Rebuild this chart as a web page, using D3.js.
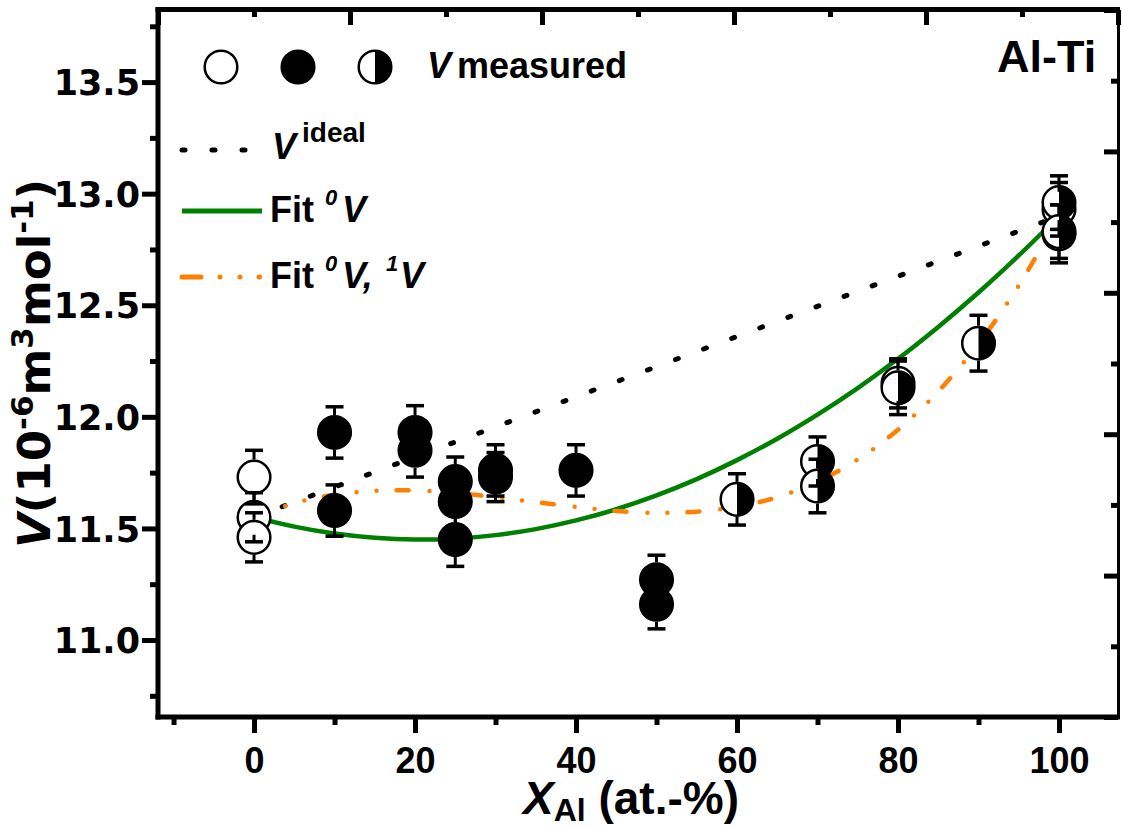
<!DOCTYPE html>
<html>
<head>
<meta charset="utf-8">
<script src="https://cdn.jsdelivr.net/npm/d3@7"></script>
<style>
  html, body { margin: 0; padding: 0; background: #fff; }
  svg { display: block; }
  text { font-family: "Liberation Sans", Arial, sans-serif; font-weight: bold; fill: #000; }
  .wide { font-family: "DejaVu Sans", Verdana, sans-serif; }
</style>
</head>
<body>
<svg id="chart" width="1122" height="828"></svg>
<script>
// ---- data -------------------------------------------------------------
// measured molar volumes (10^-6 m^3/mol) with their uncertainties
const xOpen   = [0, 0, 0, 80, 100, 100];
const vOpen   = [11.73, 11.55, 11.46, 12.15, 12.93, 12.82];
const eOpen   = [0.12, 0.11, 0.11, 0.11, 0.12, 0.13];

const xFilled = [10, 10, 20, 20, 25, 25, 25, 30, 30, 40, 50, 50];
const vFilled = [11.93, 11.58, 11.93, 11.85, 11.71, 11.62, 11.45, 11.76, 11.73, 11.76, 11.27, 11.16];
const eFilled = [0.115, 0.115, 0.12, 0.12, 0.11, 0.11, 0.12, 0.115, 0.11, 0.115, 0.11, 0.11];

const xHalf   = [60, 70, 70, 80, 90, 100, 100];
const vHalf   = [11.63, 11.80, 11.69, 12.13, 12.33, 12.96, 12.83];
const eHalf   = [0.115, 0.11, 0.12, 0.12, 0.125, 0.12, 0.12];

// ideal mixing line (end members)
const xIdeal  = [0, 100];
const vIdeal  = [11.55, 12.90];

// fitted curves
const xFit    = [0, 5, 10, 15, 20, 25, 30, 35, 40, 45, 50, 55, 60, 65, 70, 75, 80, 85, 90, 95, 100];
const vFit0   = [11.550, 11.508, 11.477, 11.458, 11.450, 11.454, 11.470, 11.497, 11.536, 11.586, 11.648,
                 11.721, 11.806, 11.902, 12.010, 12.129, 12.260, 12.403, 12.557, 12.723, 12.900];
const vFit01  = [11.550, 11.613, 11.651, 11.668, 11.670, 11.659, 11.640, 11.618, 11.596, 11.578, 11.570,
                 11.575, 11.597, 11.640, 11.710, 11.809, 11.942, 12.114, 12.328, 12.588, 12.900];

// axis ticks
const xMajor = [0, 20, 40, 60, 80, 100];
const xMinor = [-10, 10, 30, 50, 70, 90];
const yMajor = [11.0, 11.5, 12.0, 12.5, 13.0, 13.5];
const yMinor = [10.75, 11.25, 11.75, 12.25, 12.75, 13.25, 13.75];

// ---- layout -----------------------------------------------------------
const L = 158, R = 1118, T = 10, B = 717;
const svg = d3.select("#chart");

const x = d3.scaleLinear().domain([-11.93, 107.33]).range([L, R]);
const y = d3.scaleLinear().domain([10.655, 13.823]).range([B, T]);
// secondary (unlabelled) top / right axes
const xTop = d3.scaleLinear().domain([0, 5]).range([L, R]);
const yRight = d3.scaleLinear().domain([0, 5]).range([B, T]);

const GREEN = "#008000", ORANGE = "#ff8000";
const R_MK = 16.3;

svg.append("defs").append("clipPath").attr("id", "plotClip")
  .append("rect").attr("x", L).attr("y", T).attr("width", R - L).attr("height", B - T);

// ---- axes -------------------------------------------------------------
function styleTicks(g, w) {
  g.select(".domain").remove();
  g.selectAll("line").attr("stroke", "#000").attr("stroke-width", w);
}

const gxMaj = svg.append("g").attr("transform", `translate(0,${B})`)
  .call(d3.axisBottom(x).tickValues(xMajor).tickSize(16).tickSizeOuter(0).tickFormat(d3.format("d")));
styleTicks(gxMaj, 5);
gxMaj.selectAll("text").attr("y", 56).attr("dy", 0).style("font-size", "36px");

const gxMin = svg.append("g").attr("transform", `translate(0,${B})`)
  .call(d3.axisBottom(x).tickValues(xMinor).tickSize(8).tickSizeOuter(0).tickFormat(""));
styleTicks(gxMin, 5);

const gyMaj = svg.append("g").attr("transform", `translate(${L},0)`)
  .call(d3.axisLeft(y).tickValues(yMajor).tickSize(16).tickSizeOuter(0).tickFormat(d3.format(".1f")));
styleTicks(gyMaj, 5);
gyMaj.selectAll("text").attr("class", "wide").attr("x", -18).attr("dy", "0.36em").style("font-size", "35px");

const gyMin = svg.append("g").attr("transform", `translate(${L},0)`)
  .call(d3.axisLeft(y).tickValues(yMinor).tickSize(8).tickSizeOuter(0).tickFormat(""));
styleTicks(gyMin, 5);

const gtMaj = svg.append("g").attr("transform", `translate(0,${T})`)
  .call(d3.axisBottom(xTop).tickValues([0, 1, 2, 3, 4, 5]).tickSize(15).tickSizeOuter(0).tickFormat(""));
styleTicks(gtMaj, 5);
const gtMin = svg.append("g").attr("transform", `translate(0,${T})`)
  .call(d3.axisBottom(xTop).tickValues([0.5, 1.5, 2.5, 3.5, 4.5]).tickSize(7).tickSizeOuter(0).tickFormat(""));
styleTicks(gtMin, 5);

const grMaj = svg.append("g").attr("transform", `translate(${R},0)`)
  .call(d3.axisLeft(yRight).tickValues([0, 1, 2, 3, 4, 5]).tickSize(14).tickSizeOuter(0).tickFormat(""));
styleTicks(grMaj, 5);
const grMin = svg.append("g").attr("transform", `translate(${R},0)`)
  .call(d3.axisLeft(yRight).tickValues([0.5, 1.5, 2.5, 3.5, 4.5]).tickSize(7).tickSizeOuter(0).tickFormat(""));
styleTicks(grMin, 5);

// frame
const frame = svg.append("g").attr("stroke", "#000");
frame.append("line").attr("x1", L).attr("x2", L).attr("y1", T - 2.5).attr("y2", B + 2.5).attr("stroke-width", 5);
frame.append("line").attr("x1", L - 2.5).attr("x2", R).attr("y1", B).attr("y2", B).attr("stroke-width", 5);
frame.append("line").attr("x1", L - 2.5).attr("x2", R).attr("y1", T - 0.5).attr("y2", T - 0.5).attr("stroke-width", 5);
frame.append("line").attr("x1", R + 0.5).attr("x2", R + 0.5).attr("y1", T - 3).attr("y2", B + 2.5).attr("stroke-width", 3);

// ---- curves -----------------------------------------------------------
const curves = svg.append("g").attr("clip-path", "url(#plotClip)").attr("fill", "none");
const line = d3.line().x(d => x(d[0])).y(d => y(d[1])).curve(d3.curveCatmullRom);

curves.append("path")
  .datum(xIdeal.map((d, i) => [d, vIdeal[i]]))
  .attr("d", d3.line().x(d => x(d[0])).y(d => y(d[1])))
  .attr("stroke", "#000").attr("stroke-width", 5)
  .attr("stroke-linecap", "round").attr("stroke-dasharray", "3 27");

curves.append("path")
  .datum(xFit.map((d, i) => [d, vFit0[i]]))
  .attr("d", line)
  .attr("stroke", GREEN).attr("stroke-width", 4.5);

curves.append("path")
  .datum(xFit.map((d, i) => [d, vFit01[i]]))
  .attr("d", line)
  .attr("stroke", ORANGE).attr("stroke-width", 4.5)
  .attr("stroke-linecap", "round").attr("stroke-dasharray", "12 21 0 20 0 20");

// ---- markers ----------------------------------------------------------
function openMarker(g, cx, cy) {
  g.append("circle").attr("cx", cx).attr("cy", cy).attr("r", R_MK)
    .attr("fill", "#fff").attr("stroke", "#000").attr("stroke-width", 2.5);
}
function filledMarker(g, cx, cy) {
  g.append("circle").attr("cx", cx).attr("cy", cy).attr("r", R_MK)
    .attr("fill", "#000").attr("stroke", "#000").attr("stroke-width", 2.5);
}
function halfMarker(g, cx, cy) {
  g.append("circle").attr("cx", cx).attr("cy", cy).attr("r", R_MK).attr("fill", "#fff");
  g.append("path")
    .attr("d", `M${cx},${cy - R_MK} A${R_MK},${R_MK} 0 0 1 ${cx},${cy + R_MK} Z`)
    .attr("fill", "#000");
  g.append("circle").attr("cx", cx).attr("cy", cy).attr("r", R_MK)
    .attr("fill", "none").attr("stroke", "#000").attr("stroke-width", 2.5);
}

const marks = svg.append("g");
xOpen.forEach((d, i) => openMarker(marks, x(d), y(vOpen[i])));
xFilled.forEach((d, i) => filledMarker(marks, x(d), y(vFilled[i])));
xHalf.forEach((d, i) => halfMarker(marks, x(d), y(vHalf[i])));

// ---- error bars (drawn outside each marker) ---------------------------
const errs = svg.append("g").attr("stroke", "#000");
function errorBar(xv, v, e) {
  const cx = x(xv), cy = y(v), yt = y(v + e), yb = y(v - e);
  const edge = R_MK + 1.2;
  if (cy - yt > edge) errs.append("line").attr("x1", cx).attr("x2", cx).attr("y1", yt).attr("y2", cy - edge).attr("stroke-width", 3);
  if (yb - cy > edge) errs.append("line").attr("x1", cx).attr("x2", cx).attr("y1", cy + edge).attr("y2", yb).attr("stroke-width", 3);
  errs.append("line").attr("x1", cx - 9).attr("x2", cx + 9).attr("y1", yt).attr("y2", yt).attr("stroke-width", 3.5);
  errs.append("line").attr("x1", cx - 9).attr("x2", cx + 9).attr("y1", yb).attr("y2", yb).attr("stroke-width", 3.5);
}
xOpen.forEach((d, i) => errorBar(d, vOpen[i], eOpen[i]));
xFilled.forEach((d, i) => errorBar(d, vFilled[i], eFilled[i]));
xHalf.forEach((d, i) => errorBar(d, vHalf[i], eHalf[i]));

// ---- legend -----------------------------------------------------------
const lg = svg.append("g");
openMarker(lg, 221, 67);
filledMarker(lg, 298, 67);
halfMarker(lg, 375, 67);
const t1 = lg.append("text").attr("x", 427).attr("y", 78).style("font-size", "36px");
t1.append("tspan").style("font-style", "italic").text("V");
t1.append("tspan").attr("dx", 6).text("measured");

lg.append("line").attr("x1", 182).attr("x2", 245).attr("y1", 150).attr("y2", 150)
  .attr("stroke", "#000").attr("stroke-width", 5).attr("stroke-linecap", "round").attr("stroke-dasharray", "3 27");
const t2 = lg.append("text").attr("x", 272).attr("y", 159).style("font-size", "36px");
t2.append("tspan").style("font-style", "italic").text("V");
t2.append("tspan").attr("x", 302).attr("dy", -17).style("font-size", "28px").text("ideal");

lg.append("line").attr("x1", 182).attr("x2", 262).attr("y1", 211).attr("y2", 211)
  .attr("stroke", GREEN).attr("stroke-width", 5);
const t3 = lg.append("text").attr("x", 270).attr("y", 222).style("font-size", "36px");
t3.append("tspan").text("Fit");
t3.append("tspan").attr("x", 325).attr("dy", -17).style("font-size", "22px").style("font-style", "italic").text("0");
t3.append("tspan").attr("x", 342).attr("dy", 17).style("font-style", "italic").text("V");

lg.append("line").attr("x1", 182).attr("x2", 259.5).attr("y1", 277).attr("y2", 277)
  .attr("stroke", ORANGE).attr("stroke-width", 5).attr("stroke-linecap", "round").attr("stroke-dasharray", "19 19 0 20 0 19");
const t4 = lg.append("text").attr("x", 270).attr("y", 288).style("font-size", "36px");
t4.append("tspan").text("Fit");
t4.append("tspan").attr("x", 325).attr("dy", -17).style("font-size", "22px").style("font-style", "italic").text("0");
t4.append("tspan").attr("x", 342).attr("dy", 17).style("font-style", "italic").text("V,");
t4.append("tspan").attr("x", 386).attr("dy", -17).style("font-size", "22px").style("font-style", "italic").text("1");
t4.append("tspan").attr("x", 400).attr("dy", 17).style("font-style", "italic").text("V");

svg.append("text").attr("x", 997).attr("y", 72).style("font-size", "45px").text("Al-Ti");

// ---- axis titles ------------------------------------------------------
const xt = svg.append("text").attr("x", 523).attr("y", 814).style("font-size", "46px");
xt.append("tspan").style("font-style", "italic").text("X");
xt.append("tspan").attr("dy", 7).style("font-size", "32px").text("Al");
xt.append("tspan").attr("dy", -7).text(" (at.-%)");

const yt = svg.append("text").attr("class", "wide")
  .attr("transform", "translate(50,548) rotate(-90)").style("font-size", "45px");
yt.append("tspan").style("font-style", "italic").text("V");
yt.append("tspan").text("(10");
yt.append("tspan").attr("dy", -17).style("font-size", "31px").text("-6");
yt.append("tspan").attr("dy", 17).text("m");
yt.append("tspan").attr("dy", -17).style("font-size", "31px").text("3");
yt.append("tspan").attr("dy", 17).text("mol");
yt.append("tspan").attr("dy", -17).style("font-size", "31px").text("-1");
yt.append("tspan").attr("dy", 17).text(")");
</script>
</body>
</html>
